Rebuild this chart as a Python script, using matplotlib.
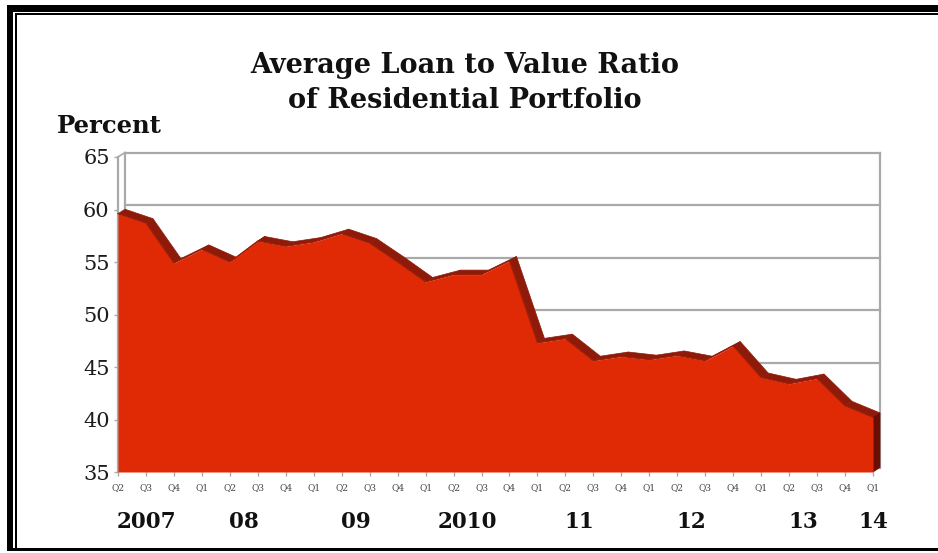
import matplotlib
matplotlib.use('Agg')
import matplotlib.pyplot as plt
from matplotlib.patches import Polygon, Rectangle
import numpy as np

# quarterly average loan-to-value ratio, 2007 Q2 .. 2014 Q1 (percent)
quarters = ['Q2', 'Q3', 'Q4',
            'Q1', 'Q2', 'Q3', 'Q4',
            'Q1', 'Q2', 'Q3', 'Q4',
            'Q1', 'Q2', 'Q3', 'Q4',
            'Q1', 'Q2', 'Q3', 'Q4',
            'Q1', 'Q2', 'Q3', 'Q4',
            'Q1', 'Q2', 'Q3', 'Q4',
            'Q1']
ltv = [59.6, 58.7, 54.9,
       56.2, 55.0, 57.0, 56.5,
       56.9, 57.7, 56.8, 55.0,
       53.1, 53.8, 53.8, 55.1,
       47.3, 47.7, 45.6, 46.0,
       45.7, 46.1, 45.6, 47.0,
       44.0, 43.4, 43.9, 41.3,
       40.2]
years = ['2007', '08', '09', '2010', '11', '12', '13', '14']
quarters_per_year = [3, 4, 4, 4, 4, 4, 4, 1]
y_ticks = [35, 40, 45, 50, 55, 60, 65]

title = 'Average Loan to Value Ratio\nof Residential Portfolio'

RED = '#e02a06'
TOP = '#8e1b0a'
SIDE = '#6a0d03'
GRID = '#a9a9a9'

W, H = 938, 553
fig = plt.figure(figsize=(W / 100, H / 100), dpi=100, facecolor='white')
ax = fig.add_axes([118 / W, 81 / H, 755 / W, 315 / H])

x = np.arange(len(ltv))
y = np.array(ltv)
ymin, ymax = y_ticks[0], y_ticks[-1]
ax.set_xlim(0, x[-1])
ax.set_ylim(ymin, ymax)

# depth of the pseudo-3d box, 7px right and 4.5px up
dx = 7 * x[-1] / 755
dy = 4.5 * (ymax - ymin) / 315

# back wall: gridlines and side edges
for v in y_ticks[1:]:
    ax.plot([dx, x[-1] + dx], [v + dy, v + dy], color=GRID, lw=1.6,
            clip_on=False, zorder=1)
for xv in (dx, x[-1] + dx):
    ax.plot([xv, xv], [ymin + dy, ymax + dy], color=GRID, lw=1.6,
            clip_on=False, zorder=1)
# front left axis and the little corner joining it to the wall
ax.plot([0, 0], [ymin, ymax], color=GRID, lw=1.6, clip_on=False, zorder=1)
ax.plot([0, dx], [ymax, ymax + dy], color=GRID, lw=1.2, clip_on=False, zorder=1)

# top surface of the area, one strip per segment
for i in range(len(x) - 1):
    quad = [(x[i], y[i]), (x[i + 1], y[i + 1]),
            (x[i + 1] + dx, y[i + 1] + dy), (x[i] + dx, y[i] + dy)]
    ax.add_patch(Polygon(quad, closed=True, facecolor=TOP, edgecolor=TOP,
                         lw=0.5, clip_on=False, zorder=2))
# right end face
side = [(x[-1], ymin), (x[-1], y[-1]), (x[-1] + dx, y[-1] + dy),
        (x[-1] + dx, ymin + dy)]
ax.add_patch(Polygon(side, closed=True, facecolor=SIDE, edgecolor=SIDE,
                     lw=0.5, clip_on=False, zorder=2))

# front face
ax.fill_between(x, ymin, y, color=RED, lw=0, zorder=3, clip_on=False)
ax.plot(x, y, color='#a01d08', lw=0.8, zorder=4, clip_on=False)

for s in ax.spines.values():
    s.set_visible(False)
ax.patch.set_visible(False)

ax.set_yticks(y_ticks)
ax.set_yticklabels([str(v) for v in y_ticks], fontsize=15,
                   family='DejaVu Serif', color='#1c1c1c')
ax.tick_params(axis='y', length=3, width=1, color=GRID, pad=3)

ax.set_xticks(x)
ax.set_xticklabels(quarters, fontsize=6.5, family='DejaVu Serif', color='#444444')
ax.tick_params(axis='x', length=3, width=1, color=GRID, pad=5)

# year labels centred under their quarters
start = 0
for yr, n in zip(years, quarters_per_year):
    centre = start + (n - 1) / 2
    start += n
    ax.annotate(yr, xy=(centre, 0), xycoords=('data', 'axes fraction'),
                xytext=(0, -36), textcoords='offset points',
                ha='center', va='center', fontsize=15.5,
                family='DejaVu Serif', weight='bold', color='#111111')

# title and unit label
for k, line in enumerate(title.split('\n')):
    fig.text(465 / W, 1 - (73 + 35 * k) / H, line, ha='center', va='baseline',
             fontsize=19.5, family='DejaVu Serif', weight='bold', color='#111111')
fig.text(57 / W, 1 - 133 / H, 'Percent', ha='left', va='baseline',
         fontsize=17.5, family='DejaVu Serif', weight='bold', color='#111111')


# black frame around the panel (pixel coords, origin top-left)
def frame_bar(x0, y0, x1, y1):
    fig.add_artist(Rectangle((x0 / W, 1 - y1 / H), (x1 - x0) / W, (y1 - y0) / H,
                             transform=fig.transFigure, facecolor='black',
                             edgecolor='none'))


frame_bar(7, 5, W, 12)
frame_bar(7, 5, 13, 551)
frame_bar(15, 13, W, 15)
frame_bar(15, 13, 17, 548)
frame_bar(7, 548, W, 551)

fig.savefig('out.png', dpi=100, facecolor='white')
